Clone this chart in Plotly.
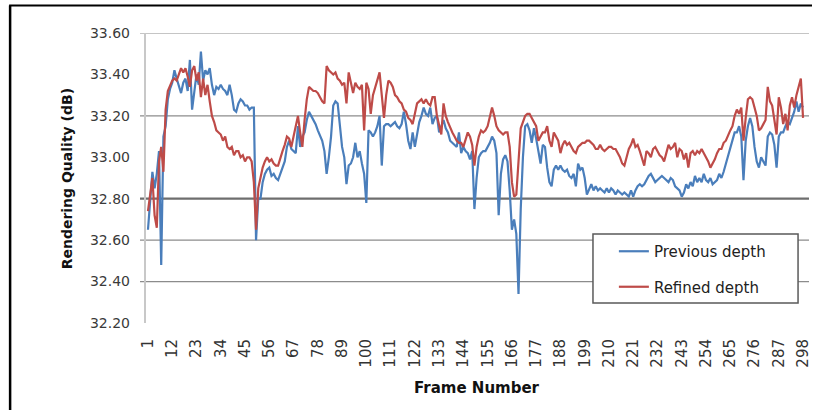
import plotly.graph_objects as go

# ---------------- data ----------------
frames = list(range(1, 299))

previous_depth = [
    32.65, 32.80, 32.93, 32.85, 32.92, 33.03, 32.48, 33.10, 33.15, 33.28,
    33.33, 33.36, 33.42, 33.38, 33.35, 33.31, 33.36, 33.38, 33.32, 33.47,
    33.23, 33.33, 33.40, 33.35, 33.51, 33.37, 33.42, 33.40, 33.43, 33.35,
    33.30, 33.34, 33.33, 33.35, 33.33, 33.32, 33.30, 33.35, 33.30, 33.23,
    33.22, 33.26, 33.28, 33.27, 33.25, 33.25, 33.23, 33.24, 33.24, 32.60,
    32.80, 32.80, 32.88, 32.92, 32.94, 32.95, 32.91, 32.92, 32.90, 32.89,
    32.92, 32.96, 32.98, 33.05, 33.08, 33.04, 33.03, 33.02, 33.15, 33.05,
    33.10, 33.12, 33.18, 33.22, 33.20, 33.18, 33.16, 33.13, 33.10, 33.08,
    33.03, 32.92, 33.00, 33.10, 33.25, 33.27, 33.26, 33.15, 33.05, 33.00,
    32.87, 32.96, 32.97, 33.00, 33.07, 33.00, 33.03, 32.97, 32.92, 32.78,
    33.13, 33.12, 33.10, 33.12, 33.15, 33.20, 32.96, 33.15, 33.16, 33.16,
    33.15, 33.16, 33.17, 33.15, 33.14, 33.16, 33.22, 33.16, 33.08, 33.04,
    33.12, 33.05, 33.12, 33.17, 33.20, 33.24, 33.21, 33.20, 33.24, 33.16,
    33.19, 33.20, 33.12, 33.15, 33.18, 33.14, 33.12, 33.08, 33.07, 33.06,
    33.05, 33.12, 33.02, 33.05, 33.03, 33.02, 32.99, 33.03, 32.75, 32.90,
    33.00, 33.02, 33.03, 33.03, 33.05, 33.07, 33.10, 33.08, 33.02, 32.72,
    32.92, 32.99, 33.01, 32.98, 32.84, 32.65, 32.70, 32.63, 32.34, 32.75,
    33.00, 33.15, 33.16, 33.13, 33.07, 33.14, 33.09, 33.02, 32.97, 33.06,
    33.05, 32.95, 32.88, 32.86, 32.94, 32.96, 32.94, 32.96, 32.94, 32.93,
    32.94, 32.91, 32.90, 32.92, 32.86, 32.97, 32.94, 32.95, 32.90, 32.82,
    32.85, 32.87, 32.84, 32.86, 32.84, 32.85, 32.84, 32.83, 32.85, 32.83,
    32.85, 32.84, 32.82, 32.84, 32.83, 32.82, 32.83, 32.82, 32.81, 32.84,
    32.81, 32.84, 32.86, 32.87, 32.86, 32.87, 32.89, 32.91, 32.92, 32.90,
    32.88, 32.89, 32.90, 32.91, 32.90, 32.89, 32.88, 32.90, 32.89, 32.86,
    32.85, 32.84, 32.81, 32.83, 32.87, 32.85, 32.88, 32.86, 32.91, 32.88,
    32.90, 32.88, 32.92, 32.89, 32.88, 32.90, 32.87, 32.88, 32.89, 32.92,
    32.90, 32.93, 32.97, 33.00, 33.05, 33.09, 33.12, 33.12, 33.15, 33.10,
    32.89, 33.08, 33.15, 33.19, 33.15, 33.05, 32.98, 32.95, 33.00, 32.98,
    32.96, 33.10, 33.12, 33.11, 33.06, 32.95, 33.10, 33.12, 33.12, 33.15,
    33.17, 33.16, 33.19, 33.22, 33.27, 33.22, 33.26, 33.24,
]

refined_depth = [
    32.74, 32.83, 32.90, 32.72, 32.66, 32.98, 33.05, 32.93, 33.23, 33.32,
    33.35, 33.37, 33.38, 33.37, 33.40, 33.43, 33.41, 33.43, 33.39, 33.34,
    33.42, 33.44, 33.37, 33.41, 33.29, 33.38, 33.30, 33.35, 33.27, 33.20,
    33.17, 33.13, 33.12, 33.11, 33.08, 33.10, 33.05, 33.04, 33.05, 33.01,
    33.03, 33.03, 33.00, 33.01, 32.98, 33.00, 33.00, 32.98, 32.88, 32.65,
    32.85, 32.90, 32.95, 32.98, 33.00, 32.98, 32.99, 32.97, 32.96, 32.96,
    33.00, 33.03, 33.06, 33.10, 33.09, 33.05, 33.10, 33.15, 33.20, 33.12,
    33.05, 33.18, 33.28, 33.34, 33.33, 33.32, 33.32, 33.31, 33.29, 33.27,
    33.26, 33.44, 33.42, 33.41, 33.40, 33.41, 33.38, 33.37, 33.35, 33.36,
    33.26, 33.41, 33.35, 33.31, 33.36, 33.34, 33.33, 33.35, 33.13, 33.36,
    33.33, 33.21, 33.30, 33.34, 33.38, 33.41, 33.30, 33.19, 33.30, 33.37,
    33.36, 33.34, 33.30, 33.29, 33.27, 33.26, 33.23, 33.22, 33.19, 33.18,
    33.16, 33.22, 33.26, 33.27, 33.28, 33.26, 33.28, 33.26, 33.25, 33.29,
    33.29, 33.20, 33.16, 33.11, 33.26, 33.20, 33.17, 33.14, 33.12, 33.10,
    33.08, 33.07, 33.07, 33.05, 33.09, 33.12, 33.10, 33.06, 32.96, 33.05,
    33.10, 33.13, 33.12, 33.13, 33.15, 33.20, 33.24, 33.20, 33.15, 33.13,
    33.12, 33.11, 33.12, 33.12, 33.05, 32.88, 32.81, 32.82, 32.98, 33.14,
    33.17, 33.20, 33.21, 33.21, 33.19, 33.17, 33.15, 33.08, 33.10, 33.12,
    33.12, 33.15, 33.08, 33.05, 33.12, 33.10, 33.08, 33.02, 33.06, 33.08,
    33.06, 33.07, 33.05, 33.03, 33.02, 33.05, 33.06, 33.07, 33.07, 33.08,
    33.08, 33.07, 33.06, 33.04, 33.04, 33.06, 33.04, 33.03, 33.04, 33.05,
    33.05, 33.04, 33.04, 33.02, 33.00, 32.97, 32.96, 33.00, 33.04, 33.06,
    33.09, 33.05, 33.06, 33.03, 32.99, 32.96, 33.03, 33.02, 33.00, 33.04,
    33.05, 33.03, 33.01, 33.00, 32.98, 33.02, 33.06, 33.04, 33.05, 33.07,
    33.00, 33.04, 33.03, 32.99, 33.02, 32.95, 33.02, 33.03, 33.01, 33.03,
    33.02, 33.04, 33.02, 33.00, 32.98, 32.95, 32.97, 32.99, 33.02, 33.04,
    33.04, 33.07, 33.08, 33.11, 33.13, 33.15, 33.20, 33.23, 33.21, 33.24,
    33.08, 33.19, 33.28, 33.29, 33.28, 33.24, 33.20, 33.13, 33.14, 33.16,
    33.18, 33.34, 33.27, 33.25, 33.18, 33.11, 33.29, 33.24, 33.16, 33.21,
    33.13, 33.25, 33.29, 33.24, 33.30, 33.34, 33.38, 33.19,
]

x_tick_values = list(range(1, 299, 11))
x_tick_labels = [str(v) for v in x_tick_values]
y_tick_values = [32.2, 32.4, 32.6, 32.8, 33.0, 33.2, 33.4, 33.6]
y_tick_labels = ["%.2f" % v for v in y_tick_values]
grid_values = [33.6, 33.2, 32.8, 32.6, 32.4]

# ---------------- figure ----------------
W, H = 812, 410
ML, MT = 145, 33
PLOT_RIGHT, PLOT_BOTTOM = 812, 323
MR, MB = W - PLOT_RIGHT, H - PLOT_BOTTOM
PW, PH = PLOT_RIGHT - ML, PLOT_BOTTOM - MT


def px_x(px):
    return (px - ML) / PW


def px_y(py):
    return (PLOT_BOTTOM - py) / PH


FONT = "DejaVu Sans"

fig = go.Figure()
fig.add_trace(go.Scatter(
    x=frames, y=previous_depth, mode="lines", name="Previous depth",
    line=dict(color="#4A7EBB", width=2.2), legendgroup="a"))
fig.add_trace(go.Scatter(
    x=frames, y=refined_depth, mode="lines", name="Refined depth",
    line=dict(color="#BE4B48", width=2.2), legendgroup="b"))

shapes = []
for g in grid_values:
    dark = abs(g - 32.8) < 1e-9
    shapes.append(dict(
        type="line", xref="paper", yref="y", x0=px_x(140), x1=1.0, y0=g, y1=g,
        line=dict(color="#6E6E6E" if dark else "#8C8C8C", width=2.2 if dark else 1.2),
        layer="below"))
# y axis line
shapes.append(dict(type="line", xref="paper", yref="paper", x0=0, x1=0, y0=0, y1=1,
                   line=dict(color="#C8C8C8", width=2), layer="below"))
# legend box
shapes.append(dict(type="rect", xref="paper", yref="paper",
                   x0=px_x(595), x1=px_x(801), y0=px_y(303), y1=px_y(234),
                   fillcolor="white", line=dict(color="#5A5A5A", width=1.5), layer="above"))
# outer frame (left and top edges)
shapes.append(dict(type="line", xref="paper", yref="paper",
                   x0=px_x(9.5), x1=px_x(9.5), y0=px_y(5.5), y1=px_y(420),
                   line=dict(color="black", width=2.5)))
shapes.append(dict(type="line", xref="paper", yref="paper",
                   x0=px_x(8.5), x1=px_x(820), y0=px_y(5.5), y1=px_y(5.5),
                   line=dict(color="black", width=2)))

annotations = [
    dict(text="<b>Frame Number</b>", xref="paper", yref="paper",
         x=px_x(478), y=px_y(388), xanchor="center", yanchor="middle",
         showarrow=False, font=dict(family=FONT, size=15, color="#111111")),
    dict(text="<b>Rendering Quality (dB)</b>", xref="paper", yref="paper",
         x=px_x(67), y=px_y(179), xanchor="center", yanchor="middle", textangle=-90,
         showarrow=False, font=dict(family=FONT, size=14, color="#111111")),
]

fig.update_layout(
    width=W, height=H,
    margin=dict(l=ML, r=MR, t=MT, b=MB, pad=0),
    paper_bgcolor="white", plot_bgcolor="white",
    font=dict(family=FONT, color="#333333"),
    shapes=shapes,
    annotations=annotations,
    showlegend=True,
    legend=dict(
        x=px_x(616), y=px_y(235), xanchor="left", yanchor="top",
        bgcolor="rgba(0,0,0,0)", borderwidth=0,
        font=dict(family=FONT, size=15, color="#222222"),
        traceorder="grouped", tracegroupgap=13,
    ),
    xaxis=dict(
        range=[-0.35, 300.7], showgrid=False, zeroline=False, showline=False,
        tickmode="array", tickvals=x_tick_values, ticktext=x_tick_labels,
        tickangle=-90, ticks="", ticklabelstandoff=12, ticklabeloverflow="allow",
        tickfont=dict(family=FONT, size=15, color="#333333"),
    ),
    yaxis=dict(
        range=[32.2, 33.6], showgrid=False, zeroline=False, showline=False,
        tickmode="array", tickvals=y_tick_values, ticktext=y_tick_labels,
        ticks="", ticklabelstandoff=14,
        tickfont=dict(family=FONT, size=14, color="#3A3A3A"),
    ),
)

fig.write_html("out.html", config={"displayModeBar": False},
               post_script="document.body.style.margin='0';document.body.style.padding='0';")
